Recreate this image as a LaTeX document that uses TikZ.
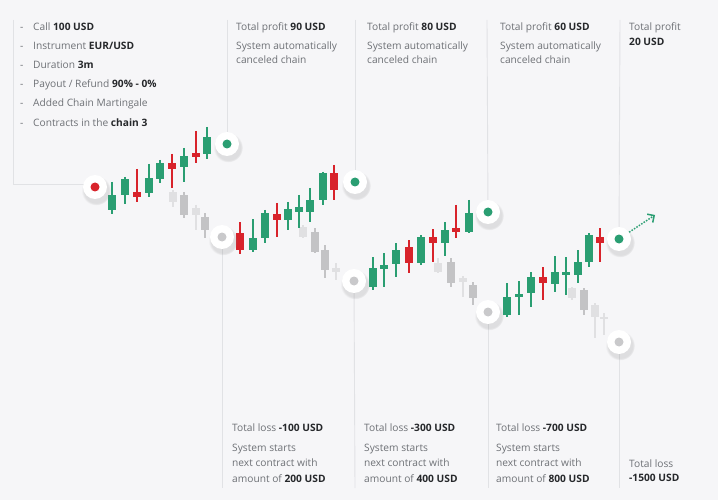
\documentclass[tikz,border=0pt]{standalone}
\usepackage{fontspec}
\setmainfont{Open Sans}
\usetikzlibrary{arrows.meta,shadows,fadings}
\definecolor{bg}{HTML}{F6F6F8}
\definecolor{vl}{HTML}{E1E2E5}
\definecolor{kgrn}{HTML}{2A9E72}
\definecolor{kred}{HTML}{D8232B}
\definecolor{kmid}{HTML}{C3C3C5}
\definecolor{klit}{HTML}{E0E0E2}
\definecolor{dgray}{HTML}{C9C9CB}
\definecolor{tg}{HTML}{6E7176}
\definecolor{tb}{HTML}{26282B}
\newcommand\cdl[6]{\draw[draw=#1,line width=1.4pt] (#2,#3) -- (#2,#6); \fill[fill=#1] (#2-3.7,#4) rectangle (#2+3.7,#5);}
\begin{document}
\begin{tikzpicture}[x=1pt,y=-1pt,
  txt/.style={font=\fontsize{10.2}{12}\selectfont,text=tg,inner sep=0pt,anchor=base west},
  vline/.style={draw=vl,line width=0.9pt},
  ring/.style={circle,fill=white,minimum size=24pt,inner sep=0pt,
    circular drop shadow={shadow xshift=1pt,shadow yshift=-3pt,shadow scale=1.22,opacity=0.2}},
  arr/.style={draw=kgrn,line width=1.5pt,dash pattern=on 1.5pt off 1.4pt,-{Straight Barb[length=5pt,width=10pt,line width=1.5pt]}}
]
\fill[bg] (0,0) rectangle (718,500);
\useasboundingbox (0,0) rectangle (718,500);

% coordinates for line ends
\coordinate (lbx) at (13,20);
\coordinate (lcx) at (84,184);
\coordinate (t1) at (227,20);
\coordinate (t2) at (355,20);
\coordinate (t3) at (487,20);
\coordinate (t4) at (620,20);
\coordinate (b1) at (222,488);
\coordinate (b2) at (355,488);
\coordinate (b3) at (488,488);
\coordinate (b4) at (619,488);
\coordinate (ar) at (655,215);

% dot positions
\path (95,187) coordinate (ps) (227,144) coordinate (pg1) (222,237) coordinate (px1)
      (355,182) coordinate (pg2) (354,281) coordinate (px2)
      (488,212) coordinate (pg3) (488,312) coordinate (px3)
      (619,239) coordinate (pg4) (619,342) coordinate (px4);

\draw[vline] (lbx) |- (lcx);
\draw[vline] (t1) -- (pg1);
\draw[vline] (t2) -- (pg2);
\draw[vline] (t3) -- (pg3);
\draw[vline] (t4) -- (pg4);
\draw[vline] (px1) -- (b1);
\draw[vline] (px2) -- (b2);
\draw[vline] (px3) -- (b3);
\draw[vline] (px4) -- (b4);

% gray (lost) candles
\cdl{klit}{173}{190}{192}{202}{207}
\cdl{kmid}{184}{192}{195}{215}{218}
\cdl{klit}{196}{205}{208}{215}{230}
\cdl{kmid}{205}{213}{217}{230}{238}

\cdl{klit}{303}{225}{227}{237}{238}
\cdl{kmid}{315}{228}{232}{252}{253}
\cdl{kmid}{325}{245}{250}{270}{278}
\cdl{klit}{336}{263}{268}{272}{280}

\cdl{klit}{438}{258}{263}{272}{273}
\cdl{kmid}{451}{258}{262}{283}{287}
\cdl{klit}{463}{276}{278}{282}{297}
\cdl{kmid}{473}{282}{285}{298}{305}

\cdl{klit}{572}{287}{288}{298}{300}
\cdl{kmid}{584}{288}{290}{310}{315}
\cdl{klit}{595}{303}{305}{317}{338}
\cdl{klit}{604}{313}{317}{319}{335}

% segment 1
\cdl{kgrn}{112}{182}{195}{210}{214}
\cdl{kgrn}{125}{177}{179}{195}{204}
\cdl{kred}{137}{169}{192}{197}{202}
\cdl{kgrn}{149}{164}{178}{193}{197}
\cdl{kgrn}{160}{160}{163}{179}{183}
\cdl{kred}{172}{154}{163}{169}{188}
\cdl{kgrn}{184}{148}{156}{167}{182}
\cdl{kred}{196}{131}{153}{157}{163}
\cdl{kgrn}{207}{127}{137}{154}{159}
% segment 2
\cdl{kred}{240}{222}{233}{250}{254}
\cdl{kgrn}{253}{219}{238}{250}{252}
\cdl{kgrn}{265}{210}{213}{238}{243}
\cdl{kred}{277}{203}{214}{220}{237}
\cdl{kgrn}{288}{202}{209}{220}{230}
\cdl{kgrn}{299}{195}{207}{212}{228}
\cdl{kgrn}{310}{188}{200}{212}{222}
\cdl{kgrn}{323}{172}{173}{200}{205}
\cdl{kred}{334}{165}{173}{190}{200}
% segment 3
\cdl{kgrn}{373}{257}{268}{287}{290}
\cdl{kgrn}{384}{253}{265}{269}{287}
\cdl{kgrn}{396}{243}{250}{264}{277}
\cdl{kred}{409}{240}{247}{263}{273}
\cdl{kgrn}{421}{235}{237}{263}{265}
\cdl{kred}{433}{229}{237}{243}{262}
\cdl{kgrn}{445}{222}{230}{243}{256}
\cdl{kred}{456}{205}{228}{232}{238}
\cdl{kgrn}{469}{200}{213}{232}{233}
% segment 4
\cdl{kgrn}{507}{283}{297}{315}{317}
\cdl{kgrn}{519}{281}{294}{297}{315}
\cdl{kgrn}{531}{272}{277}{293}{307}
\cdl{kred}{543}{267}{277}{283}{300}
\cdl{kgrn}{555}{256}{272}{284}{292}
\cdl{kgrn}{566}{257}{272}{275}{295}
\cdl{kgrn}{578}{250}{262}{275}{283}
\cdl{kgrn}{589}{233}{235}{262}{267}
\cdl{kred}{600}{228}{237}{243}{262}

% dots
\node[ring] (s0) at (ps) {};
\node[ring] (g1) at (pg1) {};
\node[ring] (x1) at (px1) {};
\node[ring] (g2) at (pg2) {};
\node[ring] (x2) at (px2) {};
\node[ring] (g3) at (pg3) {};
\node[ring] (x3) at (px3) {};
\node[ring] (g4) at (pg4) {};
\node[ring] (x4) at (px4) {};
\fill[fill=kred] (s0.center) circle (4.5);
\foreach \n in {g1,g2,g3,g4} \fill[fill=kgrn] (\n.center) circle (4.5);
\foreach \n in {x1,x2,x3,x4} \fill[fill=dgray] (\n.center) circle (4.5);

\draw[arr] (g4) -- (ar);

% left list
\foreach \yy/\nm/\tx in {30.3/la/{Call \textcolor{tb}{\textbf{100 USD}}},
  49.3/lb/{Instrument \textcolor{tb}{\textbf{EUR/USD}}},
  68.6/lc/{Duration \textcolor{tb}{\textbf{3m}}},
  87.6/ld/{Payout / Refund \textcolor{tb}{\textbf{90\% - 0\%}}},
  107/le/{Added Chain Martingale},
  126.3/lf/{Contracts in the \textcolor{tb}{\textbf{chain 3}}}}{
  \node[txt] (d\nm) at (20,\yy) {-};
  \node[txt] (\nm) at (33,\yy) {\tx};
}

% top texts
\node[txt] (p1) at (236,30.3) {Total profit \textcolor{tb}{\textbf{90 USD}}};
\node[txt] (p1b) at (236,49.3) {System automatically};
\node[txt] (p1c) at (236,63.6) {canceled chain};
\node[txt] (p2) at (367,30.3) {Total profit \textcolor{tb}{\textbf{80 USD}}};
\node[txt] (p2b) at (367,49.3) {System automatically};
\node[txt] (p2c) at (367,63.6) {canceled chain};
\node[txt] (p3) at (500,30.3) {Total profit \textcolor{tb}{\textbf{60 USD}}};
\node[txt] (p3b) at (500,49.3) {System automatically};
\node[txt] (p3c) at (500,63.6) {canceled chain};
\node[txt] (p4) at (629,30.3) {Total profit};
\node[txt] (p4b) at (629,45.6) {\textcolor{tb}{\textbf{20 USD}}};

% bottom texts
\node[txt] (q1) at (232,431.3) {Total loss \textcolor{tb}{\textbf{-100 USD}}};
\node[txt] (q1b) at (232,451.3) {System starts};
\node[txt] (q1c) at (232,466) {next contract with};
\node[txt] (q1d) at (232,482) {amount of \textcolor{tb}{\textbf{200 USD}}};
\node[txt] (q2) at (364,431.3) {Total loss \textcolor{tb}{\textbf{-300 USD}}};
\node[txt] (q2b) at (364,451.3) {System starts};
\node[txt] (q2c) at (364,466) {next contract with};
\node[txt] (q2d) at (364,482) {amount of \textcolor{tb}{\textbf{400 USD}}};
\node[txt] (q3) at (496,431.3) {Total loss \textcolor{tb}{\textbf{-700 USD}}};
\node[txt] (q3b) at (496,451.3) {System starts};
\node[txt] (q3c) at (496,466) {next contract with};
\node[txt] (q3d) at (496,482) {amount of \textcolor{tb}{\textbf{800 USD}}};
\node[txt] (q4) at (629,467) {Total loss};
\node[txt] (q4b) at (629,481) {\textcolor{tb}{\textbf{-1500 USD}}};
\end{tikzpicture}
\end{document}
